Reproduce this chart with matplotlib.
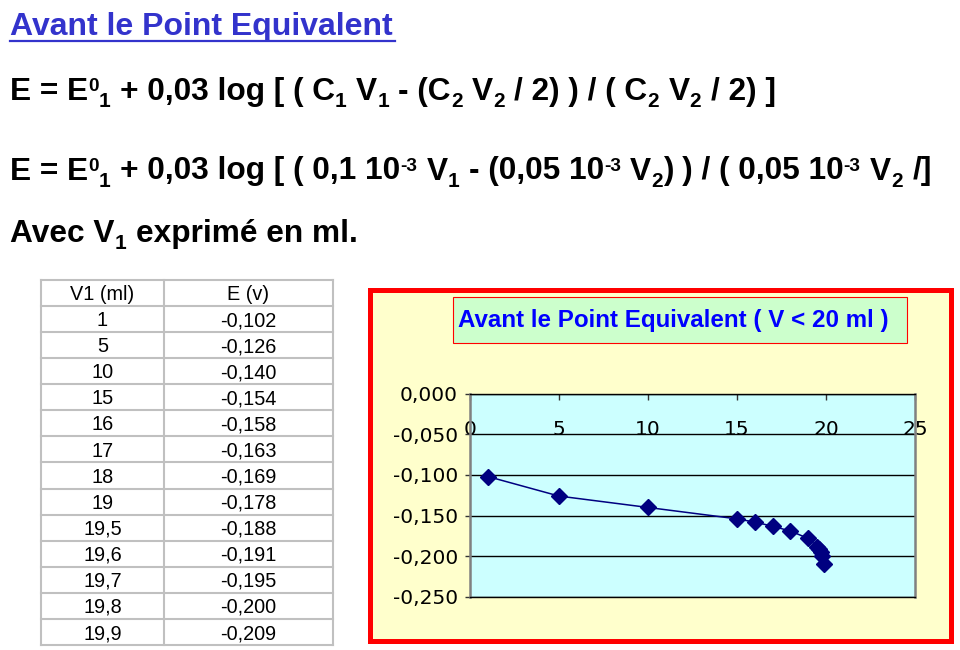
import matplotlib
matplotlib.use('Agg')
import matplotlib.pyplot as plt
from matplotlib.patches import Rectangle
from matplotlib.ticker import FuncFormatter
from matplotlib.lines import Line2D

# ---------------- data ----------------
v1_ml = [1, 5, 10, 15, 16, 17, 18, 19, 19.5, 19.6, 19.7, 19.8, 19.9]
e_volts = [-0.102, -0.126, -0.140, -0.154, -0.158, -0.163, -0.169,
           -0.178, -0.188, -0.191, -0.195, -0.200, -0.209]
table_headers = ["V1 (ml)", "E (v)"]
x_ticks = [0, 5, 10, 15, 20, 25]
y_ticks = [0.0, -0.05, -0.10, -0.15, -0.20, -0.25]

page_title = "Avant le Point Equivalent"
chart_title = "Avant le Point Equivalent ( V < 20 ml )"
formula_1 = [("E = E", 'n'), ("0", 'sup'), ("1", 'sub'), (" + 0,03 log [ ( C", 'n'),
             ("1", 'sub'), (" V", 'n'), ("1", 'sub'), (" - (C", 'n'), ("2", 'sub'),
             (" V", 'n'), ("2", 'sub'), (" / 2) ) / ( C", 'n'), ("2", 'sub'),
             (" V", 'n'), ("2", 'sub'), (" / 2) ]", 'n')]
formula_2 = [("E = E", 'n'), ("0", 'sup'), ("1", 'sub'), (" + 0,03 log [ ( 0,1 10", 'n'),
             ("-3", 'sup'), (" V", 'n'), ("1", 'sub'), (" - (0,05 10", 'n'), ("-3", 'sup'),
             (" V", 'n'), ("2", 'sub'), (") ) / ( 0,05 10", 'n'), ("-3", 'sup'),
             (" V", 'n'), ("2", 'sub'), (" /]", 'n')]
formula_3 = [("Avec V", 'n'), ("1", 'sub'), (" exprimé en ml.", 'n')]

# ---------------- figure ----------------
W, H = 960, 650
fig = plt.figure(figsize=(9.6, 6.5), dpi=100)
fig.patch.set_facecolor('white')
deco = fig.add_axes([0, 0, 1, 1])
deco.set_xlim(0, W)
deco.set_ylim(H, 0)
deco.axis('off')
deco.set_zorder(0)
renderer = fig.canvas.get_renderer()


def pt2px(s):
    return s * 100 / 72


def rich(x, y, runs, size, color='black', family='Liberation Sans', weight='bold'):
    for txt, kind in runs:
        if kind == 'n':
            s, dy = size, 0
        elif kind == 'sub':
            s, dy = size * 0.66, 0.23 * pt2px(size)
        else:
            s, dy = size * 0.6, -0.28 * pt2px(size)
        lead = len(txt) - len(txt.lstrip(' '))
        trail = len(txt) - len(txt.rstrip(' '))
        core = txt.strip(' ')
        sp = 0.3 * pt2px(s)
        x += lead * sp
        if core:
            t = deco.text(x, y + dy, core, fontsize=s, family=family, weight=weight,
                          color=color, ha='left', va='baseline')
            x += t.get_window_extent(renderer).width
        x += trail * sp
    return x


# page title (underlined)
t_end = rich(10, 35, [(page_title, 'n')], 23, color='#3333CC')
deco.add_line(Line2D([10, t_end + 2], [40.5, 40.5], color='#3333CC', lw=1.6))

rich(10, 100, formula_1, 22.8)
rich(10, 179.5, formula_2, 22.8)
rich(10, 242, formula_3, 22.8)

# ---------------- table ----------------
tab_left, tab_mid, tab_right = 41, 164, 333
tab_top, row_h = 280, 26.07
n_rows = len(v1_ml) + 1
grid_c = '#C0C0C0'
for i in range(n_rows + 1):
    yy = tab_top + i * row_h
    deco.add_line(Line2D([tab_left, tab_right], [yy, yy], color=grid_c, lw=1.5))
for xx in (tab_left, tab_mid, tab_right):
    deco.add_line(Line2D([xx, xx], [tab_top, tab_top + n_rows * row_h], color=grid_c, lw=1.5))

rows = [table_headers] + [[f"{v:g}".replace('.', ','), f"{e:.3f}".replace('.', ',')]
                          for v, e in zip(v1_ml, e_volts)]
c1 = (tab_left + tab_mid) / 2
c2 = (tab_mid + tab_right) / 2
for i, (a, b) in enumerate(rows):
    yc = tab_top + (i + 0.5) * row_h + 0.358 * pt2px(14.3)
    deco.text(c1, yc, a, fontsize=14.3, family='Liberation Sans', ha='center', va='baseline')
    deco.text(c2, yc, b, fontsize=14.3, family='Liberation Sans', ha='center', va='baseline')

# ---------------- chart area ----------------
deco.add_patch(Rectangle((369.5, 289.5), 581, 351, facecolor='#FFFFCC',
                         edgecolor='#FF0000', lw=3.6))
deco.add_patch(Rectangle((452.5, 296.5), 454, 46, facecolor='#CCFFCC',
                         edgecolor='#FF0000', lw=0.8))
deco.text(458, 320, chart_title, fontsize=17.4, family='Liberation Sans', weight='bold',
          color='#0000FF', ha='left', va='center')

ax = fig.add_axes([470 / W, 1 - 597 / H, (915 - 470) / W, (597 - 393.5) / H])
ax.set_zorder(2)
ax.set_facecolor('#CCFFFF')
ax.set_xlim(0, 25)
ax.set_ylim(-0.25, 0)
ax.set_xticks(x_ticks)
ax.set_yticks(y_ticks)
ax.yaxis.set_major_formatter(FuncFormatter(lambda v, p: f"{v:.3f}".replace('.', ',').replace('-0,000', '0,000')))
ax.xaxis.set_ticks_position('top')
ax.tick_params(axis='x', direction='in', length=4.5, width=1, color='#333333',
               labelsize=14.5, pad=-33, labeltop=True, labelbottom=False)
ax.tick_params(axis='y', direction='out', length=3.6, width=1, color='#333333',
               labelsize=14.5, pad=5)
for lab in ax.get_xticklabels() + ax.get_yticklabels():
    lab.set_family('DejaVu Sans')
ax.yaxis.grid(True, color='black', lw=1)
ax.set_axisbelow(True)
for side in ('left', 'right'):
    ax.spines[side].set_color('#808080')
    ax.spines[side].set_linewidth(1.8)
for side in ('top', 'bottom'):
    ax.spines[side].set_color('black')
    ax.spines[side].set_linewidth(1)

ax.plot(v1_ml, e_volts, color='#000080', lw=1.1, marker='D', ms=8,
        mfc='#000080', mec='#000080', clip_on=False, zorder=3)

fig.savefig('out.png', dpi=100, facecolor='white')
